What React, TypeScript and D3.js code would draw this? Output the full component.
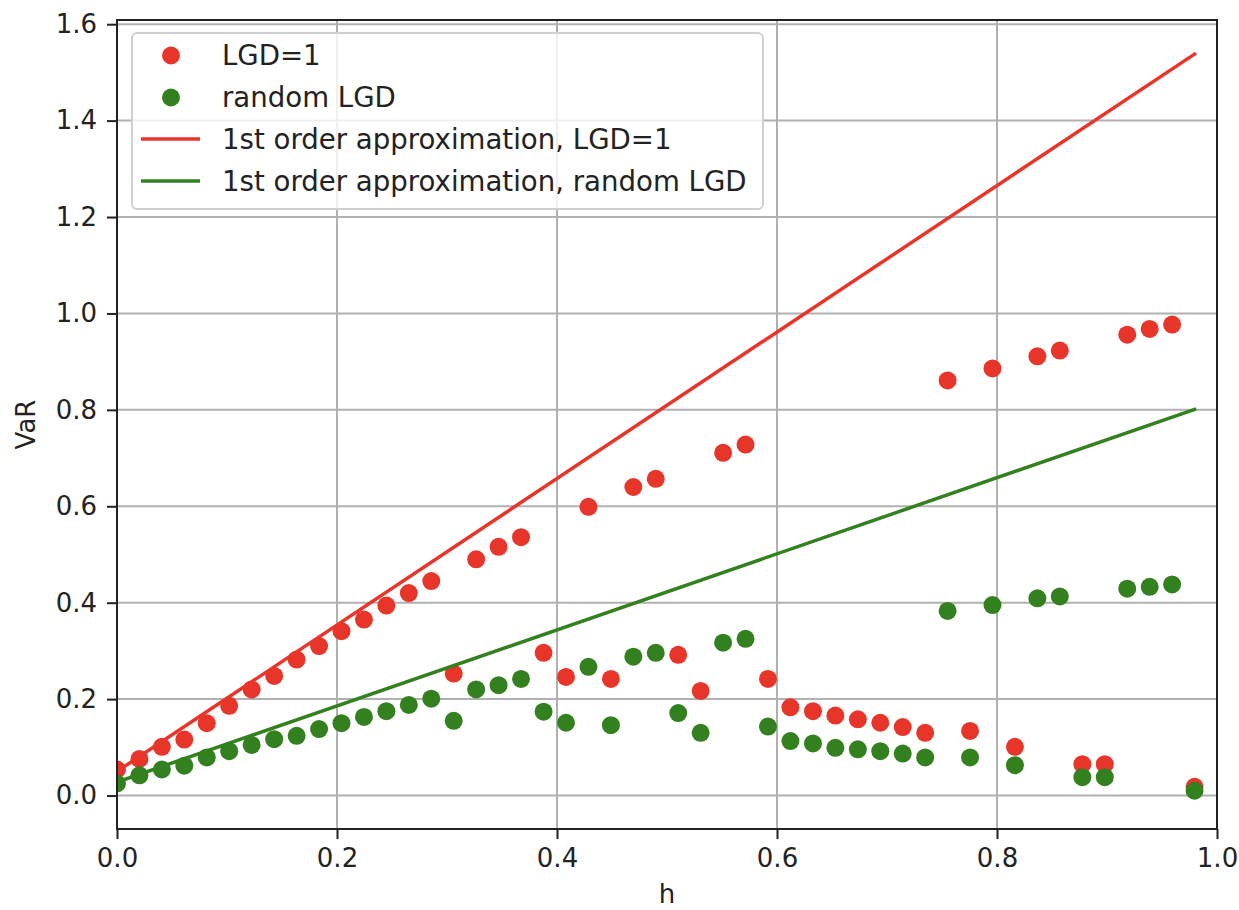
import React, { useRef, useEffect } from 'react';
import * as d3 from 'd3';

// h grid (49 points)
const hValues = [
  0, 0.0204, 0.0408, 0.0612, 0.0816, 0.102, 0.1224, 0.1429, 0.1633, 0.1837,
  0.2041, 0.2245, 0.2449, 0.2653, 0.2857, 0.3061, 0.3265, 0.3469, 0.3673, 0.3878,
  0.4082, 0.4286, 0.449, 0.4694, 0.4898, 0.5102, 0.5306, 0.551, 0.5714, 0.5918,
  0.6122, 0.6327, 0.6531, 0.6735, 0.6939, 0.7143, 0.7347, 0.7551, 0.7755, 0.7959,
  0.8163, 0.8367, 0.8571, 0.8776, 0.898, 0.9184, 0.9388, 0.9592, 0.9796,
];

// simulated VaR, LGD = 1
const varLgd1 = [
  0.054, 0.076, 0.101, 0.116, 0.150, 0.186, 0.220, 0.248, 0.282, 0.310,
  0.341, 0.365, 0.394, 0.420, 0.445, 0.253, 0.490, 0.516, 0.536, 0.296,
  0.246, 0.599, 0.242, 0.640, 0.657, 0.292, 0.217, 0.711, 0.728, 0.242,
  0.183, 0.175, 0.166, 0.158, 0.151, 0.142, 0.130, 0.861, 0.134, 0.886,
  0.101, 0.911, 0.923, 0.065, 0.065, 0.956, 0.968, 0.977, 0.018,
];

// simulated VaR, random LGD
const varRandom = [
  0.025, 0.042, 0.054, 0.062, 0.079, 0.092, 0.105, 0.117, 0.124, 0.138,
  0.150, 0.163, 0.175, 0.188, 0.201, 0.155, 0.220, 0.229, 0.242, 0.174,
  0.151, 0.267, 0.146, 0.288, 0.296, 0.171, 0.130, 0.317, 0.325, 0.143,
  0.113, 0.108, 0.099, 0.096, 0.092, 0.087, 0.079, 0.383, 0.079, 0.395,
  0.063, 0.409, 0.413, 0.038, 0.038, 0.429, 0.433, 0.438, 0.010,
];

// first order approximations (end points)
const approxH = [0, 0.9796];
const approxLgd1 = [0.05, 1.538];
const approxRandom = [0.028, 0.801];

const xTicks = [0, 0.2, 0.4, 0.6, 0.8, 1.0];
const yTicks = [0, 0.2, 0.4, 0.6, 0.8, 1.0, 1.2, 1.4, 1.6];

const RED = '#e8352a';
const GREEN = '#33801f';
const FONT = 'DejaVu Sans, sans-serif';

export default function App() {
  const svgRef = useRef<SVGSVGElement>(null);
  const width = 1239;
  const height = 910;
  const margin = { top: 20, right: 22, bottom: 81, left: 117 };

  useEffect(() => {
    const svg = d3.select(svgRef.current);
    svg.selectAll('*').remove();

    const x = d3.scaleLinear().domain([0, 1]).range([margin.left, width - margin.right]);
    const y = d3.scaleLinear().domain([-0.0694, 1.6087]).range([height - margin.bottom, margin.top]);

    const x0 = margin.left, x1 = width - margin.right;
    const y0 = height - margin.bottom, y1 = margin.top;

    svg.append('defs').append('clipPath').attr('id', 'plot-clip')
      .append('rect')
      .attr('x', x0).attr('y', y1)
      .attr('width', x1 - x0).attr('height', y0 - y1);

    // grid
    const grid = svg.append('g').attr('stroke', '#b0b0b0').attr('stroke-width', 2);
    grid.selectAll('line.v').data(xTicks).join('line')
      .attr('class', 'v')
      .attr('x1', d => x(d)).attr('x2', d => x(d))
      .attr('y1', y0).attr('y2', y1);
    grid.selectAll('line.h').data(yTicks).join('line')
      .attr('class', 'h')
      .attr('x1', x0).attr('x2', x1)
      .attr('y1', d => y(d)).attr('y2', d => y(d));

    const plot = svg.append('g').attr('clip-path', 'url(#plot-clip)');

    const pts = (vals: number[]) => vals.map((v, i) => ({ h: hValues[i], v }));

    plot.append('g').selectAll('circle').data(pts(varLgd1)).join('circle')
      .attr('cx', d => x(d.h)).attr('cy', d => y(d.v)).attr('r', 9)
      .attr('fill', RED);
    plot.append('g').selectAll('circle').data(pts(varRandom)).join('circle')
      .attr('cx', d => x(d.h)).attr('cy', d => y(d.v)).attr('r', 9)
      .attr('fill', GREEN);

    const line = d3.line<{ h: number; v: number }>().x(d => x(d.h)).y(d => y(d.v));
    plot.append('path')
      .datum(approxLgd1.map((v, i) => ({ h: approxH[i], v })))
      .attr('fill', 'none').attr('stroke', RED).attr('stroke-width', 3.5)
      .attr('stroke-linecap', 'square')
      .attr('d', line);
    plot.append('path')
      .datum(approxRandom.map((v, i) => ({ h: approxH[i], v })))
      .attr('fill', 'none').attr('stroke', GREEN).attr('stroke-width', 3.5)
      .attr('stroke-linecap', 'square')
      .attr('d', line);

    // axes
    const xAxis = svg.append('g')
      .attr('transform', `translate(0,${y0})`)
      .call(d3.axisBottom(x).tickValues(xTicks).tickFormat(d3.format('.1f')).tickSize(10).tickPadding(10).tickSizeOuter(0));
    const yAxis = svg.append('g')
      .attr('transform', `translate(${x0},0)`)
      .call(d3.axisLeft(y).tickValues(yTicks).tickFormat(d3.format('.1f')).tickSize(10).tickPadding(10).tickSizeOuter(0));
    [xAxis, yAxis].forEach(g => {
      g.select('.domain').remove();
      g.selectAll('.tick line').attr('stroke', '#222').attr('stroke-width', 2);
      g.selectAll('.tick text')
        .attr('font-size', 26)
        .attr('font-family', FONT)
        .attr('fill', '#222');
    });

    // frame
    svg.append('rect')
      .attr('x', x0).attr('y', y1)
      .attr('width', x1 - x0).attr('height', y0 - y1)
      .attr('fill', 'none').attr('stroke', '#222').attr('stroke-width', 2);

    // axis labels
    svg.append('text')
      .attr('x', (x0 + x1) / 2).attr('y', 903)
      .attr('text-anchor', 'middle')
      .attr('font-size', 26).attr('font-family', FONT).attr('fill', '#222')
      .text('h');
    svg.append('text')
      .attr('transform', `translate(35,${(y0 + y1) / 2}) rotate(-90)`)
      .attr('text-anchor', 'middle')
      .attr('font-size', 26).attr('font-family', FONT).attr('fill', '#222')
      .text('VaR');

    // legend
    const legend = svg.append('g');
    legend.append('rect')
      .attr('x', 132).attr('y', 33).attr('width', 631).attr('height', 176)
      .attr('rx', 5)
      .attr('fill', 'white').attr('fill-opacity', 0.8)
      .attr('stroke', '#d0d0d0').attr('stroke-width', 2);

    const entries = [
      { label: 'LGD=1', color: RED, kind: 'dot' },
      { label: 'random LGD', color: GREEN, kind: 'dot' },
      { label: '1st order approximation, LGD=1', color: RED, kind: 'line' },
      { label: '1st order approximation, random LGD', color: GREEN, kind: 'line' },
    ];
    const rowY = [55.5, 97.5, 139, 181];
    entries.forEach((e, i) => {
      const cy = rowY[i];
      if (e.kind === 'dot') {
        legend.append('circle').attr('cx', 171).attr('cy', cy).attr('r', 9).attr('fill', e.color);
      } else {
        legend.append('line')
          .attr('x1', 141).attr('x2', 200).attr('y1', cy).attr('y2', cy)
          .attr('stroke', e.color).attr('stroke-width', 3.5);
      }
      legend.append('text')
        .attr('x', 222).attr('y', cy).attr('dy', '0.35em')
        .attr('font-size', 27.6).attr('font-family', FONT).attr('fill', '#222')
        .text(e.label);
    });
  }, []);

  return (
    <svg
      ref={svgRef}
      width={width}
      height={height}
      viewBox={`0 0 ${width} ${height}`}
      style={{ position: 'absolute', left: 0, top: 0, display: 'block', background: 'white' }}
    />
  );
}
